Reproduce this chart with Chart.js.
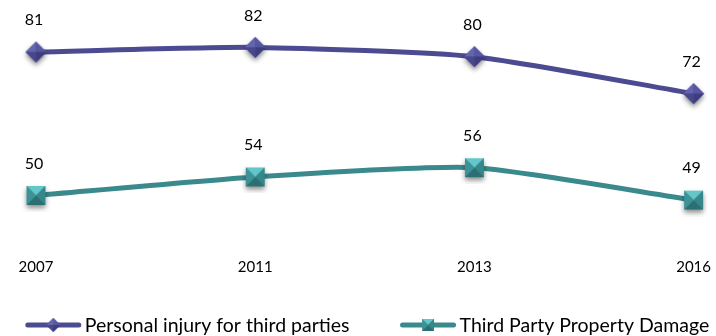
<!DOCTYPE html>
<html>
<head>
<meta charset="utf-8">
<script src="https://cdn.jsdelivr.net/npm/chart.js@4.4.0/dist/chart.umd.js"></script>
<style>
  html, body { margin: 0; padding: 0; background: #fff; }
  #wrap { width: 716px; height: 336px; }
</style>
</head>
<body>
<div id="wrap"><canvas id="chart"></canvas></div>
<script>
const years = ['2007', '2011', '2013', '2016'];
const injuryValues = [81, 82, 80, 72];
const propertyValues = [50, 54, 56, 49];
const seriesNames = ['Personal injury for third parties', 'Third Party Property Damage'];

const FONT = 'Lato';
const PURPLE = '#4C4A91';
const TEAL = '#3A8A8D';

// marker pictures (diamond / pyramid square with a soft shadow)
function diamondMarker(r, pad, withShadow) {
    const c = document.createElement('canvas');
    const s = Math.ceil(2 * r + 2 * pad);
    c.width = s; c.height = s;
    const g = c.getContext('2d');
    const cx = s / 2, cy = s / 2;
    g.save();
    if (withShadow) {
        g.shadowColor = 'rgba(0,0,0,0.45)';
        g.shadowBlur = 5;
        g.shadowOffsetY = 3;
    }
    g.beginPath();
    g.moveTo(cx - r, cy); g.lineTo(cx, cy - r); g.lineTo(cx + r, cy); g.lineTo(cx, cy + r);
    g.closePath();
    g.fillStyle = '#4E4D95';
    g.fill();
    g.restore();
    const faces = [
        [[cx - r, cy], [cx, cy - r], '#6564AE'],
        [[cx, cy - r], [cx + r, cy], '#5756A1'],
        [[cx + r, cy], [cx, cy + r], '#3D3C7E'],
        [[cx, cy + r], [cx - r, cy], '#48478A']
    ];
    faces.forEach(f => {
        g.beginPath();
        g.moveTo(f[0][0], f[0][1]); g.lineTo(f[1][0], f[1][1]); g.lineTo(cx, cy);
        g.closePath();
        g.fillStyle = f[2];
        g.fill();
    });
    return c;
}

function squareMarker(h, pad, withShadow) {
    const c = document.createElement('canvas');
    const s = Math.ceil(2 * h + 2 * pad);
    c.width = s; c.height = s;
    const g = c.getContext('2d');
    const cx = s / 2, cy = s / 2;
    const x0 = cx - h, x1 = cx + h, y0 = cy - h, y1 = cy + h;
    g.save();
    if (withShadow) {
        g.shadowColor = 'rgba(0,0,0,0.45)';
        g.shadowBlur = 5;
        g.shadowOffsetY = 3;
    }
    g.fillStyle = '#37878A';
    g.fillRect(x0, y0, 2 * h, 2 * h);
    g.restore();
    const faces = [
        [[x0, y0], [x1, y0], '#63C6C9'],
        [[x1, y0], [x1, y1], '#35878A'],
        [[x1, y1], [x0, y1], '#2C6F72'],
        [[x0, y1], [x0, y0], '#3C9296']
    ];
    faces.forEach(f => {
        g.beginPath();
        g.moveTo(f[0][0], f[0][1]); g.lineTo(f[1][0], f[1][1]); g.lineTo(cx, cy);
        g.closePath();
        g.fillStyle = f[2];
        g.fill();
    });
    return c;
}

const diamond = diamondMarker(10.5, 7, true);
const square = squareMarker(9.5, 7, true);
const legendMarkers = [diamondMarker(7, 1, false), squareMarker(6, 1, false)];

// value labels above the points
const valueLabels = {
    id: 'valueLabels',
    afterDatasetsDraw(chart) {
        const ctx = chart.ctx;
        ctx.save();
        ctx.font = '16px ' + FONT;
        ctx.fillStyle = '#000';
        ctx.textAlign = 'center';
        ctx.textBaseline = 'middle';
        chart.data.datasets.forEach((ds, i) => {
            chart.getDatasetMeta(i).data.forEach((pt, j) => {
                ctx.fillText(ds.data[j], pt.x - 2, pt.y - 32);
            });
        });
        ctx.restore();
    }
};

// legend: line sample with marker, then the series name
const lineLegend = {
    id: 'lineLegend',
    afterDraw(chart) {
        const ctx = chart.ctx;
        const sampleW = 57, gapText = 3, gapItem = 50;
        const y = 325, centerX = 367;
        ctx.save();
        ctx.font = '19.5px ' + FONT;
        const widths = chart.data.datasets.map(ds => ctx.measureText(ds.label).width);
        let total = 0;
        widths.forEach((w, i) => { total += sampleW + gapText + w + (i ? gapItem : 0); });
        let x = centerX - total / 2;
        chart.data.datasets.forEach((ds, i) => {
            ctx.strokeStyle = ds.borderColor;
            ctx.lineWidth = 5;
            ctx.lineCap = 'round';
            ctx.beginPath();
            ctx.moveTo(x + 3, y); ctx.lineTo(x + sampleW - 3, y);
            ctx.stroke();
            const m = legendMarkers[i];
            ctx.drawImage(m, x + (sampleW - m.width) / 2, y - m.height / 2);
            ctx.fillStyle = '#000';
            ctx.textBaseline = 'middle';
            ctx.textAlign = 'left';
            ctx.fillText(ds.label, x + sampleW + gapText, y + 1);
            x += sampleW + gapText + widths[i] + gapItem;
        });
        ctx.restore();
    }
};

new Chart(document.getElementById('chart'), {
    type: 'line',
    data: {
        labels: years,
        datasets: [
            {
                label: seriesNames[0],
                data: injuryValues,
                borderColor: PURPLE,
                borderWidth: 5,
                tension: 0.2,
                pointStyle: diamond,
                pointRadius: 10
            },
            {
                label: seriesNames[1],
                data: propertyValues,
                borderColor: TEAL,
                borderWidth: 5,
                tension: 0.2,
                pointStyle: square,
                pointRadius: 10
            }
        ]
    },
    options: {
        responsive: true,
        maintainAspectRatio: false,
        animation: false,
        layout: { padding: { top: 10, left: 36, right: 7, bottom: 40 } },
        plugins: {
            tooltip: { enabled: false },
            legend: { display: false }
        },
        scales: {
            x: {
                offset: false,
                grid: { display: false },
                border: { display: false },
                ticks: { color: '#000', font: { family: FONT, size: 15 }, padding: 5 },
                afterFit(scale) { scale.height = 51; }
            },
            y: {
                display: false,
                min: 39.3,
                max: 89.0
            }
        }
    },
    plugins: [valueLabels, lineLegend]
});
</script>
</body>
</html>
